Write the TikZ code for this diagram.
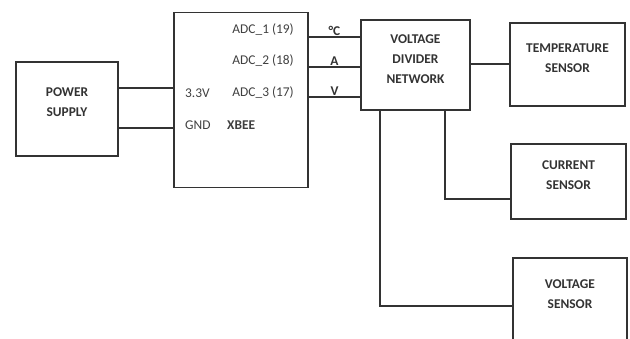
\documentclass[tikz,border=0pt]{standalone}
\usepackage{fontspec}
\setmainfont{Carlito}
\usetikzlibrary{positioning}

\begin{document}
\begin{tikzpicture}[
  x=1pt, y=-1pt,
  font=\fontsize{13.4}{20}\selectfont,
  box/.style={draw=black!80, line width=1.6pt, minimum width=#1, inner sep=0pt},
  lbl/.style={align=center, text=black!80, font=\fontsize{13.4}{20}\selectfont\bfseries},
  pin/.style={text=black!75, inner sep=0pt},
  wire/.style={draw=black!80, line width=1.6pt}
]
\path[use as bounding box, clip] (0,0) rectangle (630,338);
\node[box=102pt, minimum height=94pt] (ps) at (67,109) {};
\node[box=134pt, minimum height=175pt] (xbee) at (241,100) {};
\node[box=109pt, minimum height=90pt] (vdn) at (415.5,65) {};
\node[box=115pt, minimum height=83pt] (temp) at (567.5,64.5) {};
\node[box=115pt, minimum height=75pt] (cur) at (568.5,181.5) {};
\node[box=114pt, minimum height=84pt] (volt) at (570,300) {};
\node[lbl] (pstxt) at ([yshift=6.5pt]ps.center) {POWER\\SUPPLY};
\node[lbl] (vdntxt) at ([yshift=6pt]vdn.center) {VOLTAGE\\DIVIDER\\NETWORK};
\node[lbl] (temptxt) at ([yshift=6.5pt]temp.center) {TEMPERATURE\\SENSOR};
\node[lbl] (curtxt) at ([yshift=6pt]cur.center) {CURRENT\\SENSOR};
\node[lbl] (volttxt) at ([yshift=6pt]volt.center) {VOLTAGE\\SENSOR};
\node[pin, anchor=east] (adc1) at (294,30) {ADC\_1 (19)};
\node[pin, anchor=east] (adc2) at (294,61) {ADC\_2 (18)};
\node[pin, anchor=east] (adc3) at (294,93) {ADC\_3 (17)};
\node[pin, anchor=west] (vcc) at (185,93) {3.3V};
\node[pin, anchor=west] (gnd) at (185,125) {GND};
\node[pin, anchor=west, font=\fontsize{13.4}{20}\selectfont\bfseries] (xbeetxt) at (227,125) {XBEE};
% power lines
\draw[wire] ([yshift=21pt]ps.east) -- ([yshift=21pt]ps.east -| xbee.west);
\draw[wire] ([yshift=-19pt]ps.east) -- ([yshift=-19pt]ps.east -| xbee.west);
% adc lines
\draw[wire] ([yshift=-7pt]adc1.east -| xbee.east) -- node[above, lbl, inner sep=1pt]{°C} ([yshift=-7pt]adc1.east -| vdn.west);
\draw[wire] ([yshift=-6pt]adc2.east -| xbee.east) -- node[above, lbl, inner sep=1pt]{A} ([yshift=-6pt]adc2.east -| vdn.west);
\draw[wire] ([yshift=-4pt]adc3.east -| xbee.east) -- node[above, lbl, inner sep=1pt]{V} ([yshift=-4pt]adc3.east -| vdn.west);
% sensors
\draw[wire] ([yshift=1pt]vdn.east) -- ([yshift=1pt]vdn.east -| temp.west);
\draw[wire] ([xshift=29.5pt]vdn.south) |- ([yshift=-17.5pt]cur.west);
\draw[wire] ([xshift=-35.5pt]vdn.south) |- ([yshift=-6pt]volt.west);
\end{tikzpicture}
\end{document}
